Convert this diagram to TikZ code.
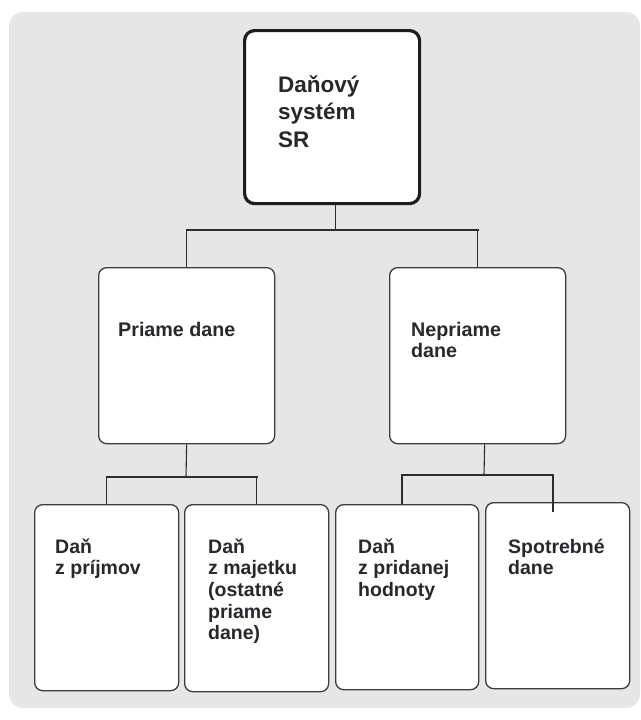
\documentclass[tikz,border=0pt]{standalone}
\usepackage{fontspec}
\setmainfont{Liberation Sans}
\definecolor{bgcol}{RGB}{230,230,231}
\definecolor{boxline}{RGB}{60,60,60}
\definecolor{topline}{RGB}{30,30,30}
\definecolor{txtcol}{RGB}{40,40,44}
\definecolor{linecol}{RGB}{45,45,45}
\begin{document}
\begin{tikzpicture}[x=1pt,y=-1pt,
  box/.style={draw=boxline, line width=1.3pt, fill=white, rounded corners=8pt, anchor=north west, inner sep=0pt},
  topbox/.style={box, draw=topline, line width=3.2pt, rounded corners=10pt},
  txt/.style={anchor=base west, inner sep=0pt, align=left, text=txtcol, font=\bfseries\fontsize{19.5}{21.7}\selectfont},
  midtxt/.style={txt, font=\bfseries\fontsize{19.7}{21.7}\selectfont},
  toptxt/.style={txt, font=\bfseries\fontsize{22.5}{27.5}\selectfont},
  link/.style={draw=linecol, line width=1.1pt}]
\useasboundingbox (0,0) rectangle (640,720);
\fill[bgcol, rounded corners=14pt] (9,12) rectangle (640,708);

\node[topbox, minimum width=175pt, minimum height=173pt] (top) at (243,29) {};
\node[box, minimum width=176pt, minimum height=176pt] (pri) at (98,267) {};
\node[box, minimum width=176pt, minimum height=176pt] (nep) at (389,267) {};
\node[box, minimum width=144pt, minimum height=186pt] (b1) at (34,504) {};
\node[box, minimum width=144pt, minimum height=187pt] (b2) at (184,504) {};
\node[box, minimum width=143pt, minimum height=185pt] (b3) at (335,504) {};
\node[box, minimum width=144pt, minimum height=186pt] (b4) at (485,502) {};

\coordinate (busT) at (334,230);
\coordinate (busL) at (186,477);
\coordinate (busR) at (484,475);
\coordinate (tapR3) at (402,475);
\coordinate (tapR4) at (553,475);

\draw[link] ([xshift=3.5pt]top.south) -- ([xshift=3.5pt]top.south |- busT);
\draw[link] ([xshift=-1pt]pri.north |- busT) -- ([xshift=1pt]nep.north |- busT);
\draw[link] (pri.north |- busT) -- (pri.north);
\draw[link] (nep.north |- busT) -- (nep.north);

\draw[link] (pri.south) -- (busL);
\draw[link] ([xshift=-1pt]b1.north |- busL) -- ([xshift=1pt]b2.north |- busL);
\draw[link] (b1.north |- busL) -- (b1.north);
\draw[link] (b2.north |- busL) -- (b2.north);

\draw[link] ([xshift=7pt]nep.south) -- (busR);
\draw[link] ([xshift=-1pt]tapR3) -- ([xshift=1pt]tapR4);
\draw[link] (tapR3) -- (tapR3 |- b3.north);
\draw[link] (tapR4) -- ([yshift=-10pt]tapR4 |- b4.north);

\node[toptxt] (ttop) at (278,147) {Daňový\\systém\\SR};
\node[midtxt] (tpri) at (118,336) {Priame dane};
\node[midtxt] (tnep) at (411,357.7) {Nepriame\\dane};
\node[txt] (t1) at (55,574.7) {Daň\\z príjmov};
\node[txt] (t2) at (208,639.8) {Daň\\z majetku\\(ostatné\\priame\\dane)};
\node[txt] (t3) at (358,596.4) {Daň\\z pridanej\\hodnoty};
\node[txt] (t4) at (508,574.7) {Spotrebné\\dane};
\end{tikzpicture}
\end{document}
